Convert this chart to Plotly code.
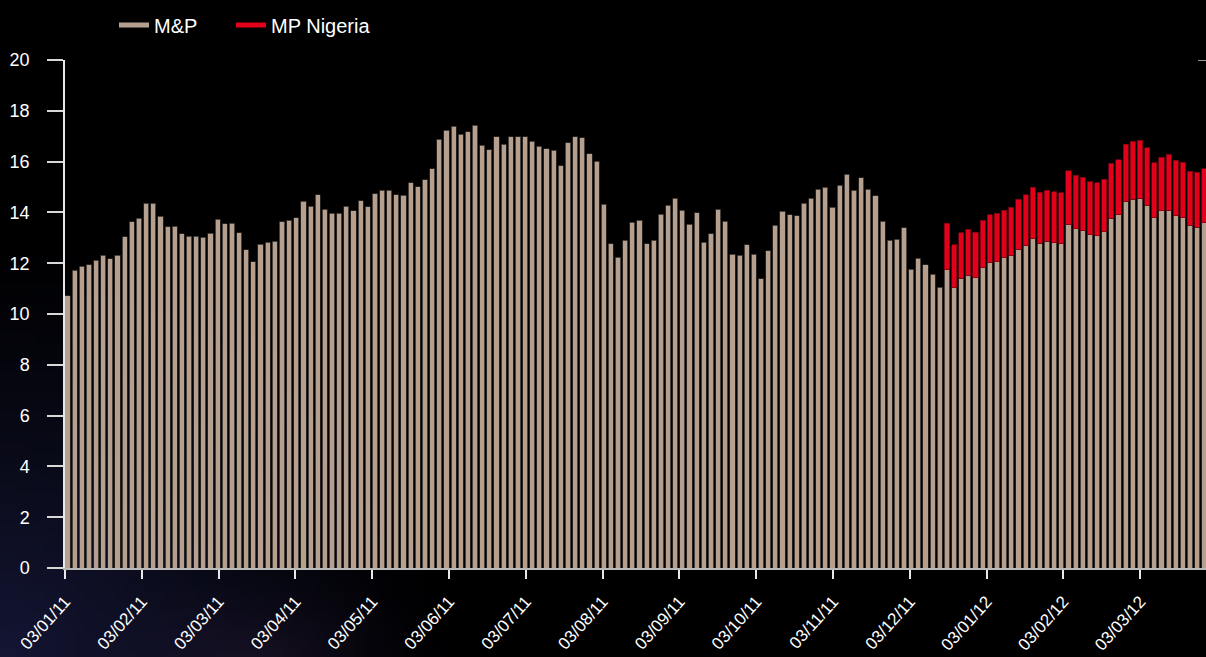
import base64
import struct
import zlib

import plotly.graph_objects as go

# ---------------- data ----------------
month_labels = ["03/01/11", "03/02/11", "03/03/11", "03/04/11", "03/05/11",
                "03/06/11", "03/07/11", "03/08/11", "03/09/11", "03/10/11",
                "03/11/11", "03/12/11", "03/01/12", "03/02/12", "03/03/12"]

mp = [10.72, 11.73, 11.88, 11.93, 12.11, 12.31, 12.17, 12.32, 13.04, 13.63,
      13.77, 14.36, 14.37, 13.85, 13.44, 13.45, 13.15, 13.07, 13.07, 13.03,
      13.18, 13.73, 13.56, 13.57, 13.19, 12.52, 12.06, 12.74, 12.82, 12.87,
      13.63, 13.69, 13.78, 14.44, 14.25, 14.69, 14.13, 13.96, 13.96, 14.25,
      14.06, 14.45, 14.23, 14.74, 14.87, 14.87, 14.70, 14.67, 15.16, 15.01,
      15.28, 15.72, 16.88, 17.24, 17.39, 17.07, 17.18, 17.43, 16.65, 16.46,
      16.98, 16.68, 16.98, 16.98, 16.98, 16.81, 16.61, 16.50, 16.44, 15.84,
      16.75, 16.97, 16.93, 16.31, 16.01, 14.33, 12.76, 12.23, 12.90, 13.61,
      13.69, 12.77, 12.90, 13.92, 14.28, 14.55, 14.08, 13.53, 13.98, 12.82,
      13.16, 14.12, 13.65, 12.36, 12.31, 12.72, 12.36, 11.38, 12.49, 13.49,
      14.04, 13.90, 13.86, 14.36, 14.55, 14.92, 14.99, 14.21, 15.07, 15.51,
      14.88, 15.37, 14.91, 14.65, 13.66, 12.91, 12.94, 13.39, 11.76, 12.19,
      11.94, 11.56, 11.06, 11.75, 11.04, 11.40, 11.52, 11.42, 11.82, 12.01,
      12.06, 12.23, 12.30, 12.55, 12.69, 12.97, 12.78, 12.86, 12.81, 12.77,
      13.52, 13.36, 13.28, 13.12, 13.08, 13.23, 13.77, 13.90, 14.42, 14.51,
      14.53, 14.28, 13.79, 14.07, 14.06, 13.87, 13.79, 13.50, 13.41, 13.60]

nigeria = [None] * 123 + [
    1.83, 1.69, 1.79, 1.81, 1.79, 1.87, 1.89, 1.90, 1.85, 1.91,
    1.96, 2.00, 2.03, 2.02, 2.02, 2.01, 2.01, 2.12, 2.10, 2.11,
    2.09, 2.08, 2.08, 2.17, 2.18, 2.27, 2.29, 2.31, 2.26, 2.17,
    2.11, 2.22, 2.19, 2.18, 2.13, 2.18, 2.12]

idx = list(range(len(mp)))

BEIGE = "#b5a08f"
RED = "#e2001a"
FONT = "Liberation Sans Narrow, Arial Narrow, Liberation Sans, Arial, sans-serif"

W, H = 1206, 657
ML, MR, MT, MB = 65, 0, 60, 89


# ---------------- background gradient (generated PNG) ----------------
def make_png(w, h, fn):
    rows = []
    for j in range(h):
        row = bytearray([0])
        for i in range(w):
            row.extend(fn(i, j))
        rows.append(bytes(row))
    raw = b"".join(rows)

    def chunk(tag, data):
        c = struct.pack(">I", len(data)) + tag + data
        return c + struct.pack(">I", zlib.crc32(tag + data) & 0xFFFFFFFF)

    png = b"\x89PNG\r\n\x1a\n"
    png += chunk(b"IHDR", struct.pack(">IIBBBBB", w, h, 8, 2, 0, 0, 0))
    png += chunk(b"IDAT", zlib.compress(raw, 9))
    png += chunk(b"IEND", b"")
    return png


GW, GH = 121, 66


def bg_pixel(i, j):
    px = i * W / (GW - 1)
    py = j * H / (GH - 1)
    dx = px / 470.0
    dy = (H - py) / 440.0
    d = (dx * dx + dy * dy) ** 0.5
    f = max(0.0, 1.0 - d)
    f = f ** 1.2
    # brownish-purple patch near bottom middle-left
    dx2 = (px - 260) / 200.0
    dy2 = (H - py) / 90.0
    d2 = (dx2 * dx2 + dy2 * dy2) ** 0.5
    g = max(0.0, 1.0 - d2) ** 1.5
    r = int(min(255, 20 * f + 14 * g))
    gg = int(min(255, 22 * f + 8 * g))
    b = int(min(255, 52 * f + 14 * g))
    return (r, gg, b)


bg_uri = "data:image/png;base64," + base64.b64encode(make_png(GW, GH, bg_pixel)).decode()

# ---------------- figure ----------------
fig = go.Figure()

fig.add_trace(go.Bar(x=idx, y=mp, name="M&P", showlegend=False,
                     marker=dict(color=BEIGE, line=dict(color="#2e2823", width=0.8))))
fig.add_trace(go.Bar(x=idx, y=nigeria, name="MP Nigeria", showlegend=False,
                     marker=dict(color=RED, line=dict(color="#7a0010", width=0.8))))

# legend entries drawn as line swatches, one legend box each
fig.add_trace(go.Scatter(x=[None], y=[None], mode="lines", name="M&P",
                         legend="legend", line=dict(color=BEIGE, width=5)))
fig.add_trace(go.Scatter(x=[None], y=[None], mode="lines", name="MP Nigeria",
                         legend="legend2", line=dict(color=RED, width=5)))

plot_w = W - ML - MR
plot_h = H - MT - MB
bar_pitch = 7.15            # px per bar
first_center_px = 2.5       # px from axis to first bar centre
month_step = 76.8 / bar_pitch
x_start = -first_center_px / bar_pitch
x_end = x_start + plot_w / bar_pitch
tickvals = [x_start + k * month_step for k in range(len(month_labels))]

legend_common = dict(orientation="h", xanchor="left",
                     y=1 + (MT - 25) / plot_h, yanchor="middle",
                     font=dict(family="Liberation Sans, Arial, sans-serif",
                               color="white", size=20),
                     bgcolor="rgba(0,0,0,0)", itemwidth=30)

fig.update_layout(
    width=W, height=H,
    margin=dict(l=ML, r=MR, t=MT, b=MB, pad=0, autoexpand=False),
    paper_bgcolor="#000000",
    plot_bgcolor="rgba(0,0,0,0)",
    barmode="stack",
    bargap=0.28,
    font=dict(family=FONT, color="white", size=17),
    images=[dict(source=bg_uri, xref="paper", yref="paper",
                 x=-ML / plot_w, y=1 + MT / plot_h,
                 sizex=W / plot_w, sizey=H / plot_h,
                 xanchor="left", yanchor="top", sizing="stretch",
                 layer="below")],
    xaxis=dict(range=[x_start, x_end], tickvals=tickvals, ticktext=month_labels,
               tickangle=-48, ticks="outside", ticklen=9, tickwidth=1.5,
               tickcolor="#e8e8e8", showline=True, linecolor="#b8b8b8",
               linewidth=2, showgrid=False, zeroline=False, automargin=False,
               tickfont=dict(family=FONT, color="white", size=17),
               ticklabelstandoff=6),
    yaxis=dict(range=[0, 20], tickvals=list(range(0, 21, 2)), ticks="outside",
               ticklen=16, tickwidth=1.5, tickcolor="#d8d8d8", showline=True,
               linecolor="#e8e8e8", linewidth=1.5, showgrid=False,
               zeroline=False, automargin=False,
               tickfont=dict(family=FONT, color="white", size=18),
               ticklabelstandoff=14),
    legend=dict(x=(114 - ML) / plot_w, **legend_common),
    legend2=dict(x=(231 - ML) / plot_w, **legend_common),
    shapes=[dict(type="line", xref="paper", yref="y",
                 x0=1 - 8 / plot_w, x1=1, y0=20, y1=20,
                 line=dict(color="#c8c8c8", width=1.5))],
    showlegend=True,
)

fig.write_html("out.html",
               config={"displayModeBar": False},
               post_script="document.body.style.margin='0';"
                           "document.body.style.background='#000';")
